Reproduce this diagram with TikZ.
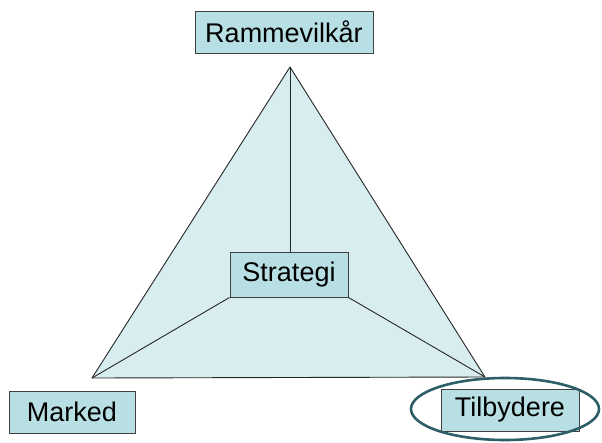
\documentclass[tikz,border=0pt]{standalone}
\usepackage{fontspec}
\setmainfont{Liberation Sans}
\definecolor{trifill}{HTML}{D8EDEF}
\definecolor{boxfill}{HTML}{B8E0E4}
\definecolor{ringcol}{HTML}{2E5E68}
\begin{document}
\begin{tikzpicture}[x=1pt,y=-1pt,
  lbl/.style={draw=black!75,line width=0.9pt,fill=boxfill,inner sep=0pt,font=\fontsize{27}{30}\selectfont},
  edge/.style={draw=black!85,line width=0.9pt}]
\useasboundingbox (0,0) rectangle (602,442);
\coordinate (apex) at (290,67);
\coordinate (bl) at (92,378);
\coordinate (br) at (485,377);
\fill[trifill] (apex) -- (bl) -- (br) -- cycle;
\draw[edge,line join=round] (apex) -- (bl) -- (br) -- cycle;
\node[lbl,minimum width=118,minimum height=45] (strat) at (289,274.5) {Strategi};
\draw[edge] (apex) -- (strat.north -| apex);
\draw[edge] (strat.south west) -- (bl);
\draw[edge] (strat.south east) -- (br);
\node[lbl,minimum width=178,minimum height=42] (ramme) at (284,32) {Rammevilkår};
\node[lbl,minimum width=126,minimum height=42] (marked) at (72,412) {Marked};
\node[lbl,minimum width=138,minimum height=42] (tilb) at (510,410) {Tilbydere};
\draw[ringcol,line width=2.6pt] (505,409) ellipse [x radius=94, y radius=31];
\end{tikzpicture}
\end{document}
